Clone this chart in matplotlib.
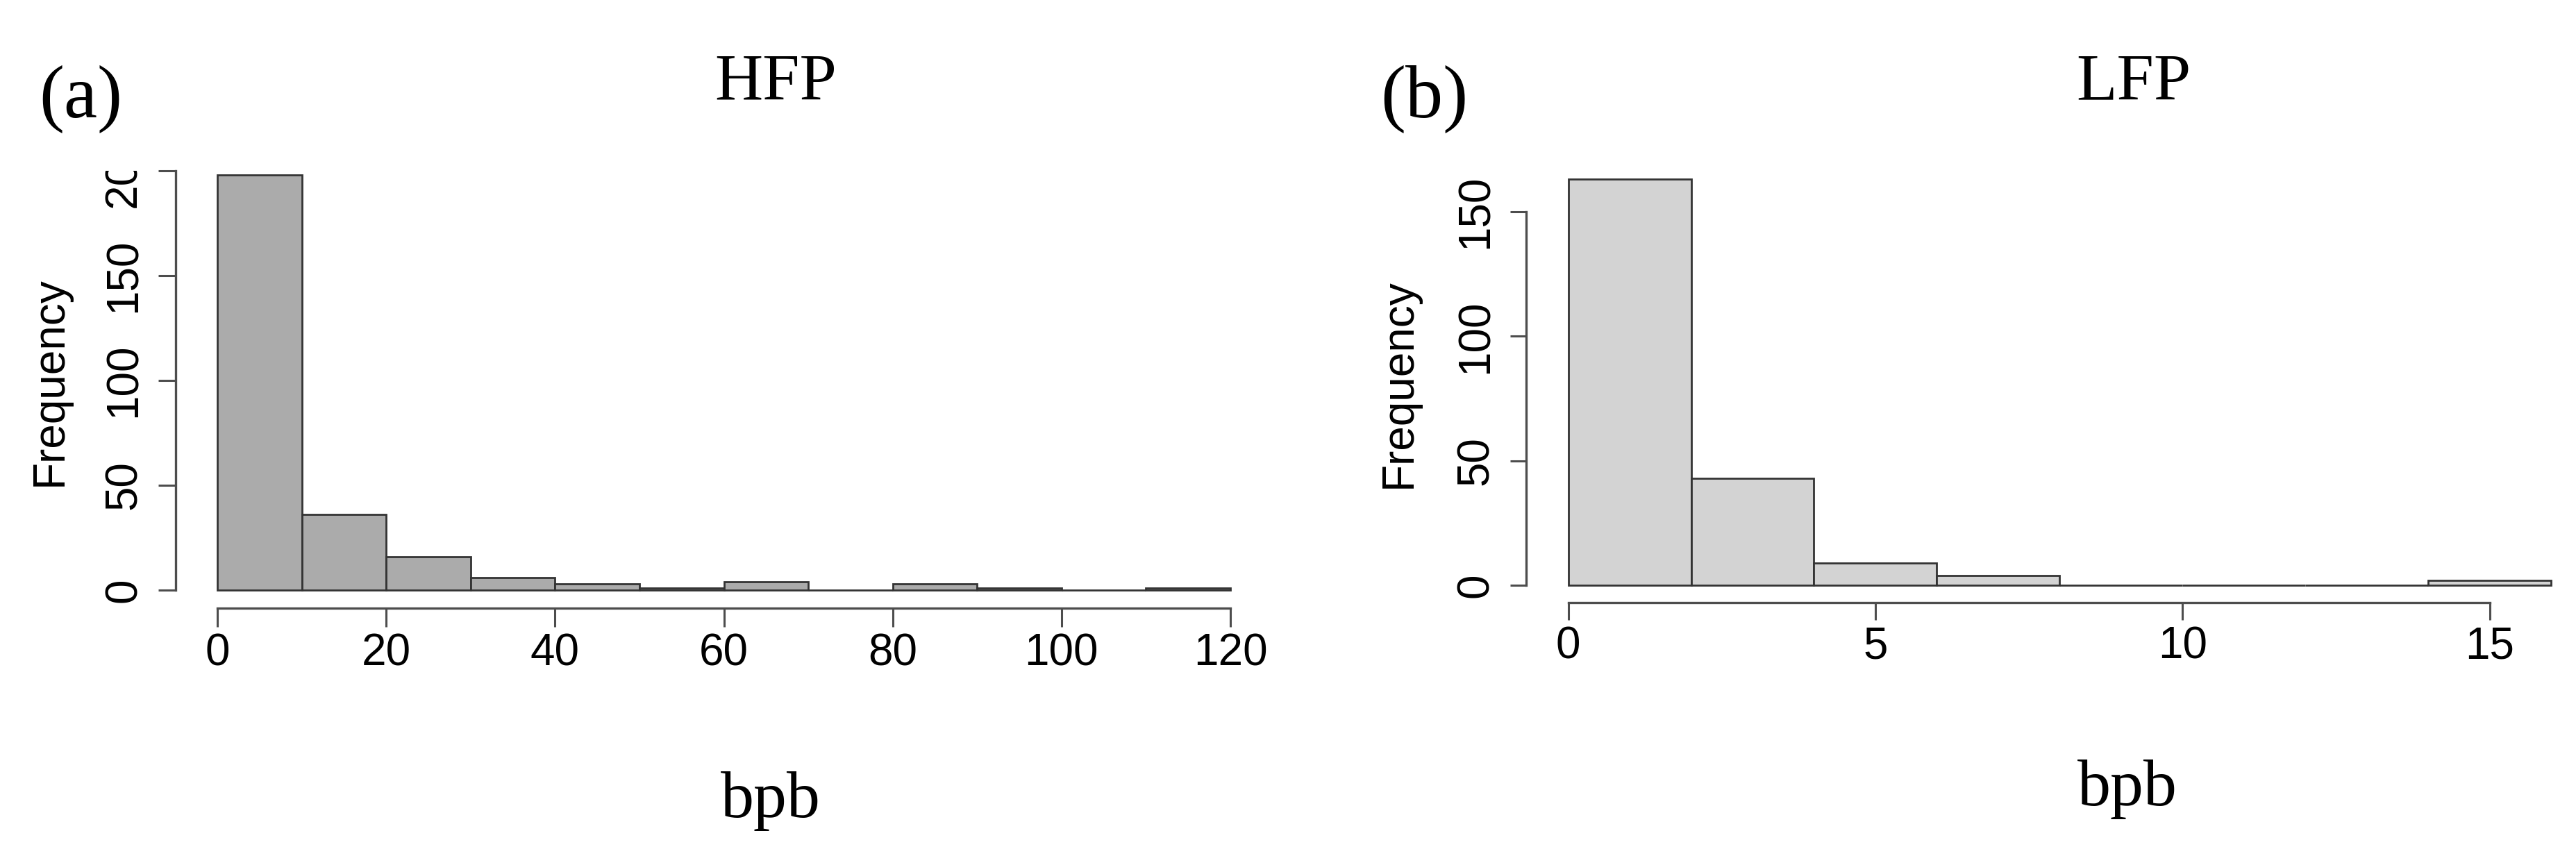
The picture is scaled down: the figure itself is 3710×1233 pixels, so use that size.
import matplotlib
matplotlib.use('Agg')
import matplotlib.pyplot as plt
from matplotlib.transforms import Bbox, TransformedBbox

# histogram data
hfp_bins = [0, 10, 20, 30, 40, 50, 60, 70, 80, 90, 100, 110, 120]
hfp_counts = [198, 36, 16, 6, 3, 1, 4, 0, 3, 1, 0, 1]
hfp_xticks = [0, 20, 40, 60, 80, 100, 120]
hfp_yticks = [0, 50, 100, 150, 200]

lfp_bins = [0, 2, 4, 6, 8, 10, 12, 14, 16]
lfp_counts = [163, 43, 9, 4, 0, 0, 0, 2]
lfp_xticks = [0, 5, 10, 15]
lfp_yticks = [0, 50, 100, 150]

W, H = 3710, 1233
DPI = 100
SANS = ['Liberation Sans', 'DejaVu Sans']
SERIF = ['Liberation Serif', 'DejaVu Serif']


def pt(px):
    return px * 72.0 / DPI


def px_axes(fig, x0, x1, y0, y1):
    # x0, x1: pixel columns of the x limits; y0, y1: pixel rows (from top) of the y limits
    return fig.add_axes([x0 / W, 1 - y0 / H, (x1 - x0) / W, (y0 - y1) / H])


def r_hist(ax, bins, counts, color, xticks, yticks, xoff, yoff, xtick_len, ytick_len):
    ax.hist(bins[:-1], bins=bins, weights=counts, color=color,
            edgecolor='#333333', linewidth=2.0, clip_on=False)
    ax.set_xlim(bins[0], bins[-1])
    for s in ['top', 'right']:
        ax.spines[s].set_visible(False)
    ax.spines['left'].set_position(('outward', pt(yoff)))
    ax.spines['bottom'].set_position(('outward', pt(xoff)))
    ax.spines['left'].set_bounds(yticks[0], yticks[-1])
    ax.spines['bottom'].set_bounds(xticks[0], xticks[-1])
    for s in ['left', 'bottom']:
        ax.spines[s].set_color('#4d4d4d')
        ax.spines[s].set_linewidth(2.4)
    ax.set_xticks(xticks)
    ax.set_yticks(yticks)
    ax.tick_params(axis='x', direction='out', length=pt(xtick_len), width=2.2,
                   color='#4d4d4d', labelsize=46, pad=6)
    ax.tick_params(axis='y', direction='out', length=pt(ytick_len), width=2.2,
                   color='#4d4d4d', labelsize=46, pad=14, labelrotation=90)
    for lbl in ax.get_xticklabels() + ax.get_yticklabels():
        lbl.set_fontfamily(SANS)
    for lbl in ax.get_yticklabels():
        lbl.set_verticalalignment('center')
    ax.patch.set_visible(False)


fig = plt.figure(figsize=(W / DPI, H / DPI), dpi=DPI)

# (a) HFP
ax1 = px_axes(fig, 313, 1772, 850, 246)
ax1.set_ylim(0, 200)
r_hist(ax1, hfp_bins, hfp_counts, '#ababab', hfp_xticks, hfp_yticks,
       xoff=26, yoff=60, xtick_len=27, ytick_len=25)

# (b) LFP
ax2 = px_axes(fig, 2258.6, 3674, 843, 843 - 170 * 3.587)
ax2.set_ylim(0, 170)
r_hist(ax2, lfp_bins, lfp_counts, '#d3d3d3', lfp_xticks, lfp_yticks,
       xoff=25, yoff=60.6, xtick_len=25, ytick_len=23)


def ftext(x, y, s, **kw):
    fig.text(x / W, 1 - y / H, s, **kw)


ftext(116, 143, '(a)', fontsize=78, family=SERIF, ha='center', va='center')
ftext(1117, 120, 'HFP', fontsize=69, family=SERIF, ha='center', va='center')
ftext(1110, 1177, 'bpb', fontsize=69, family=SERIF, ha='center', va='baseline')
ftext(72, 549, 'Frequency', fontsize=46, family=SANS, rotation=90,
      ha='center', va='center')

ftext(2051, 143, '(b)', fontsize=78, family=SERIF, ha='center', va='center')
ftext(3073, 120, 'LFP', fontsize=69, family=SERIF, ha='center', va='center')
ftext(3064, 1160, 'bpb', fontsize=69, family=SERIF, ha='center', va='baseline')
ftext(2015, 552, 'Frequency', fontsize=46, family=SANS, rotation=90,
      ha='center', va='center')

# the original crop cuts the top "200" label of panel (a)
fig.canvas.draw()
clip = TransformedBbox(Bbox([[0, 0], [1, 1 - 246 / H]]), fig.transFigure)
for lbl in ax1.yaxis.get_ticklabels():
    lbl.set_clip_box(clip)
    lbl.set_clip_on(True)

fig.savefig('out.png', dpi=DPI)
